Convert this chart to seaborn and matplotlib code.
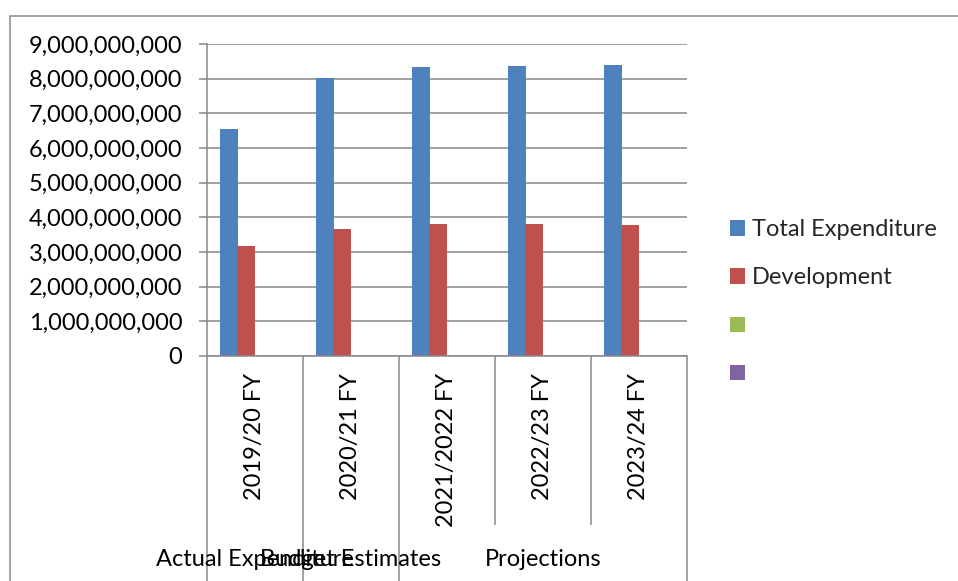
import matplotlib
matplotlib.use("Agg")
import matplotlib.pyplot as plt
import matplotlib.transforms as mtransforms
from matplotlib.patches import Patch, Rectangle
from matplotlib.ticker import StrMethodFormatter, MultipleLocator
import seaborn as sns
import pandas as pd

# ---- data -------------------------------------------------------------
years = ["2019/20 FY", "2020/21 FY", "2021/2022 FY", "2022/23 FY", "2023/24 FY"]
total_expenditure = [6.55e9, 8.01e9, 8.33e9, 8.36e9, 8.38e9]
development = [3.17e9, 3.66e9, 3.82e9, 3.80e9, 3.77e9]
series3 = [0, 0, 0, 0, 0]
series4 = [0, 0, 0, 0, 0]
series_names = ["Total Expenditure", "Development", "Series 3", "Series 4"]
legend_labels = ["Total Expenditure", "Development", "", ""]
colors = ["#4F81BD", "#C0504D", "#9BBB59", "#8064A2"]

# second-level category groups: (label, first year index, last year index)
phases = [("Actual Expenditure", 0, 0),
          ("Budget Estimates", 1, 1),
          ("Projections", 2, 4)]

df = pd.DataFrame({
    "year": years * 4,
    "series": [s for s in series_names for _ in years],
    "value": total_expenditure + development + series3 + series4,
})

# ---- style ------------------------------------------------------------
sns.set_style("white")
plt.rcParams["font.family"] = ["Lato", "DejaVu Sans"]
FS = 17
GRID = "#878787"

fig = plt.figure(figsize=(9.58, 5.81), dpi=100)
W, H = 958, 581
ax = fig.add_axes([207 / W, 1 - 356 / H, 480 / W, 312 / H])

sns.barplot(data=df, x="year", y="value", hue="series",
            hue_order=series_names, palette=colors, order=years,
            width=0.72, saturation=1, linewidth=0, legend=False, ax=ax)

ax.set_xlim(-0.5, len(years) - 0.5)
ax.set_ylim(0, 9e9)
ax.yaxis.set_major_locator(MultipleLocator(1e9))
ax.yaxis.set_major_formatter(StrMethodFormatter("{x:,.0f}"))
ax.grid(axis="y", color=GRID, linewidth=1.1)
ax.set_axisbelow(True)
ax.set_xlabel("")
ax.set_ylabel("")

for side in ("top", "right"):
    ax.spines[side].set_visible(False)
for side in ("left", "bottom"):
    ax.spines[side].set_color(GRID)
    ax.spines[side].set_linewidth(1.1)

ax.tick_params(axis="y", length=5.8, width=1.1, color=GRID, pad=12,
               labelsize=FS, labelcolor="black", direction="out", left=True)
ax.tick_params(axis="x", length=0, pad=12, labelsize=FS, labelcolor="black")
ax.set_xticks(range(len(years)))
ax.set_xticklabels(years, rotation=90, va="top", ha="center")

# category separators below the axis (long at group boundaries)
trans = mtransforms.blended_transform_factory(ax.transData, ax.transAxes)
y_long = (356 - 590) / 312
y_short = (356 - 525) / 312
group_edges = {p[1] - 0.5 for p in phases} | {phases[-1][2] + 0.5}
for i in range(len(years) + 1):
    xb = i - 0.5
    yb = y_long if xb in group_edges else y_short
    ax.plot([xb, xb], [0, yb], transform=trans, color=GRID,
            linewidth=1.1, clip_on=False, solid_capstyle="butt")

# second-level labels
for label, a, b in phases:
    ax.text((a + b) / 2, (356 - 559) / 312, label, transform=trans,
            ha="center", va="center", fontsize=FS, color="black")

# legend
handles = [Patch(facecolor=c, edgecolor="none") for c in colors]
fig.legend(handles, legend_labels, loc="center left",
           bbox_to_anchor=(730 / W, 1 - 302 / H), frameon=False,
           fontsize=FS, borderpad=0, borderaxespad=0,
           handlelength=0.63, handleheight=0.63, handletextpad=0.3,
           labelspacing=1.15)

# chart border
fig.add_artist(Rectangle((9.5 / W, -0.2), 1.2, 1.2 - 15.5 / H,
                         transform=fig.transFigure, fill=False,
                         edgecolor="#898989", linewidth=1.1))

fig.savefig("out.png", dpi=100)
